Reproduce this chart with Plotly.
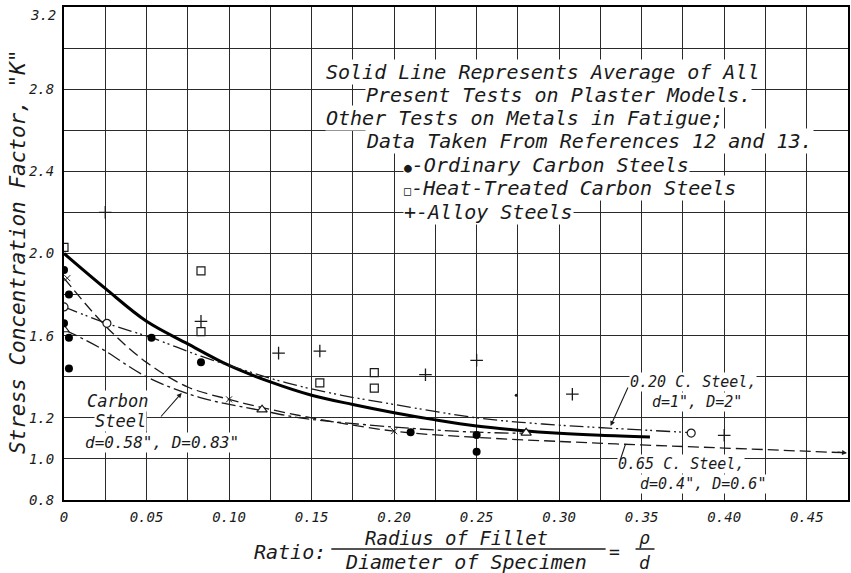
import plotly.graph_objects as go

# ---------------- data ----------------
x_tickvals = [0, 0.025, 0.05, 0.075, 0.10, 0.125, 0.15, 0.175, 0.20, 0.225, 0.25,
              0.275, 0.30, 0.325, 0.35, 0.375, 0.40, 0.425, 0.45, 0.475]
x_ticktext = ["0", "", "0.05", "", "0.10", "", "0.15", "", "0.20", "", "0.25",
              "", "0.30", "", "0.35", "", "0.40", "", "0.45", ""]
y_tickvals = [0.8, 1.0, 1.2, 1.4, 1.6, 1.8, 2.0, 2.2, 2.4, 2.6, 2.8, 3.0, 3.2]
y_ticktext = ["0.8", "1.0", "1.2", "", "1.6", "", "2.0", "", "2.4", "", "2.8", "", ""]
y_top_label = "3.2"

# solid line: average of plaster model tests
avg_x = [0, 0.025, 0.05, 0.075, 0.10, 0.125, 0.15, 0.175, 0.20, 0.225, 0.25, 0.275, 0.30, 0.325, 0.355]
avg_y = [2.00, 1.83, 1.67, 1.56, 1.455, 1.375, 1.31, 1.265, 1.225, 1.19, 1.16, 1.14, 1.125, 1.115, 1.107]

# 0.20 C. Steel, d=1", D=2"  (dash-dot-dot)
c20_x = [0, 0.026, 0.053, 0.083, 0.11, 0.135, 0.165, 0.20, 0.25, 0.29, 0.33, 0.38]
c20_y = [1.74, 1.66, 1.59, 1.50, 1.43, 1.37, 1.315, 1.265, 1.20, 1.17, 1.15, 1.128]
c20_pts_x = [0, 0.026, 0.38]
c20_pts_y = [1.74, 1.66, 1.126]

# 0.65 C. Steel, d=0.4", D=0.6"  (dashed)
c65_x = [0, 0.026, 0.05, 0.075, 0.10, 0.12, 0.15, 0.20, 0.25, 0.30, 0.35, 0.40, 0.473]
c65_y = [1.88, 1.64, 1.47, 1.35, 1.29, 1.25, 1.20, 1.135, 1.105, 1.085, 1.068, 1.053, 1.03]
c65_pts_x = [0.002, 0.10, 0.20]
c65_pts_y = [1.88, 1.29, 1.135]

# Carbon Steel, d=0.58", D=0.83"  (dash-dot)
cs_x = [0, 0.022, 0.05, 0.082, 0.12, 0.143, 0.20, 0.25, 0.28]
cs_y = [1.63, 1.54, 1.40, 1.30, 1.235, 1.20, 1.155, 1.13, 1.125]
cs_pts_x = [0, 0.12, 0.28]
cs_pts_y = [1.63, 1.24, 1.127]

# Ordinary carbon steels (filled circles)
ord_x = [0, 0.003, 0, 0.003, 0.003, 0.053, 0.083, 0.21, 0.25, 0.25]
ord_y = [1.92, 1.80, 1.66, 1.59, 1.44, 1.59, 1.47, 1.13, 1.116, 1.035]

# Heat-treated carbon steels (open squares)
ht_x = [0, 0.083, 0.083, 0.155, 0.188, 0.188]
ht_y = [2.03, 1.915, 1.62, 1.37, 1.42, 1.345]

# Alloy steels (plus)
al_x = [0.025, 0.083, 0.130, 0.155, 0.219, 0.25, 0.308, 0.40]
al_y = [2.20, 1.67, 1.515, 1.525, 1.41, 1.48, 1.315, 1.115]

# stray small dot
dot_x = [0.274]
dot_y = [1.31]

# ---------------- figure ----------------
FONT = "DejaVu Sans Mono"
INK = "#1a1a1a"

W, H = 851, 573
L, R, T, B = 64, 850, 7, 500


def px(x):
    return (x - L) / (R - L)


def py(y):
    return (B - y) / (B - T)


fig = go.Figure()

line_w = 1.3
fig.add_trace(go.Scatter(x=avg_x, y=avg_y, mode="lines", line=dict(color="#000", width=3, shape="spline")))
fig.add_trace(go.Scatter(x=c20_x, y=c20_y, mode="lines",
                         line=dict(color=INK, width=line_w, shape="spline", dash="14px,4px,2px,3px,2px,4px")))
fig.add_trace(go.Scatter(x=c65_x, y=c65_y, mode="lines",
                         line=dict(color=INK, width=line_w, shape="spline", dash="11px,5px")))
fig.add_trace(go.Scatter(x=cs_x, y=cs_y, mode="lines",
                         line=dict(color=INK, width=line_w, shape="spline", dash="14px,4px,3px,4px")))

fig.add_trace(go.Scatter(x=c20_pts_x, y=c20_pts_y, mode="markers",
                         marker=dict(symbol="circle", size=8, color="white", line=dict(color=INK, width=1.2))))
fig.add_trace(go.Scatter(x=cs_pts_x, y=cs_pts_y, mode="markers",
                         marker=dict(symbol="triangle-up", size=9, color="white", line=dict(color=INK, width=1.2))))
fig.add_trace(go.Scatter(x=c65_pts_x, y=c65_pts_y, mode="markers",
                         marker=dict(symbol="x-thin", size=6, color=INK, line=dict(color=INK, width=1))))
fig.add_trace(go.Scatter(x=ord_x, y=ord_y, mode="markers",
                         marker=dict(symbol="circle", size=8, color="#000")))
fig.add_trace(go.Scatter(x=ht_x, y=ht_y, mode="markers",
                         marker=dict(symbol="square", size=8, color="white", line=dict(color=INK, width=1.2))))
fig.add_trace(go.Scatter(x=al_x, y=al_y, mode="markers",
                         marker=dict(symbol="cross-thin", size=9, color=INK, line=dict(color=INK, width=1.3))))
fig.add_trace(go.Scatter(x=dot_x, y=dot_y, mode="markers",
                         marker=dict(symbol="circle", size=3, color=INK)))

ann = []


def text(t, x, y, size, xanchor="center", bg=None, yanchor="middle"):
    d = dict(text=t, x=px(x), y=py(y), xref="paper", yref="paper", showarrow=False,
             xanchor=xanchor, yanchor=yanchor,
             font=dict(family=FONT, size=size, color=INK, style="italic"))
    if bg:
        d.update(bgcolor=bg, borderpad=0)
    ann.append(d)


# legend block
LS = 20
text("Solid Line Represents Average of All", 326, 72, LS, "left", "white")
text("Present Tests on Plaster Models.", 366, 95, LS, "left", "white")
text("Other Tests on Metals in Fatigue;", 326, 118, LS, "left", "white")
text("Data Taken From References 12 and 13.", 366, 141, LS, "left", "white")
text("<span style='font-size:13px'>\u25cf</span>-Ordinary Carbon Steels", 404, 165, LS, "left", "white")
text("<span style='font-size:12px'>\u25a1</span>-Heat-Treated Carbon Steels", 404, 188, LS, "left", "white")
text("+-Alloy Steels", 404, 212, LS, "left", "white")

# curve labels
text("Carbon", 118, 401, 17, "center", "white")
text("Steel", 121, 421, 17, "center", "white")
text("d=0.58\", D=0.83\"", 162, 442, 16, "center", "white")
text("0.20 C. Steel,", 695, 382, 15, "center", "white")
text("d=1\", D=2\"", 699, 402, 15, "center", "white")
text("0.65 C. Steel,", 683, 464, 15, "center", "white")
text("d=0.4\", D=0.6\"", 705, 484, 15, "center", "white")

# arrows (tail pixel -> head pixel)
for (tx, ty, hx, hy, head) in [
    (160, 418, 182, 393, 2),
    (630, 386, 612, 426, 2),
    (621, 462, 627, 444, 0),
    (838, 452, 849, 453, 2),
]:
    ann.append(dict(text="", x=px(hx), y=py(hy), xref="paper", yref="paper",
                    ax=tx - hx, ay=ty - hy, axref="pixel", ayref="pixel",
                    showarrow=True, arrowhead=head, arrowsize=0.9, arrowwidth=1.1, arrowcolor=INK))

# top y tick label (placed just below the top edge as in the reference)
text(y_top_label, 58, 15, 14, "right")

# axis titles
ann.append(dict(text="Stress Concentration Factor, \"K\"", x=px(18), y=py(252), xref="paper", yref="paper",
                showarrow=False, textangle=-90, xanchor="center", yanchor="middle",
                font=dict(family=FONT, size=21, color=INK, style="italic")))
text("Ratio:", 291, 552, 20, "center")
text("Radius of Fillet", 457, 538, 19, "center")
text("Diameter of Specimen", 467, 562, 20, "center")
text("=", 616, 551, 18, "center")
text("\u03c1", 646, 537, 18, "center")
text("d", 646, 562, 18, "center")

shapes = [
    dict(type="line", xref="paper", yref="paper", x0=px(332), x1=px(607), y0=py(549), y1=py(549),
         line=dict(color=INK, width=1.5)),
    dict(type="line", xref="paper", yref="paper", x0=px(637), x1=px(656), y0=py(549), y1=py(549),
         line=dict(color=INK, width=1.5)),
]

fig.update_layout(
    width=W, height=H,
    margin=dict(l=L, r=W - R, t=T, b=H - B),
    paper_bgcolor="white", plot_bgcolor="white",
    showlegend=False,
    annotations=ann, shapes=shapes,
    xaxis=dict(range=[0, 0.475], tickvals=x_tickvals, ticktext=x_ticktext,
               showgrid=True, gridcolor="#2a2a2a", gridwidth=1, zeroline=False,
               showline=True, linecolor="#000", linewidth=2, mirror=True, ticks="",
               ticklabelstandoff=3,
               tickfont=dict(family=FONT, size=14, color=INK, style="italic")),
    yaxis=dict(range=[0.8, 3.2], tickvals=y_tickvals, ticktext=y_ticktext,
               showgrid=True, gridcolor="#2a2a2a", gridwidth=1, zeroline=False,
               showline=True, linecolor="#000", linewidth=2, mirror=True, ticks="",
               ticklabelstandoff=5,
               tickfont=dict(family=FONT, size=14, color=INK, style="italic")),
)

fig.write_html("out.html")
